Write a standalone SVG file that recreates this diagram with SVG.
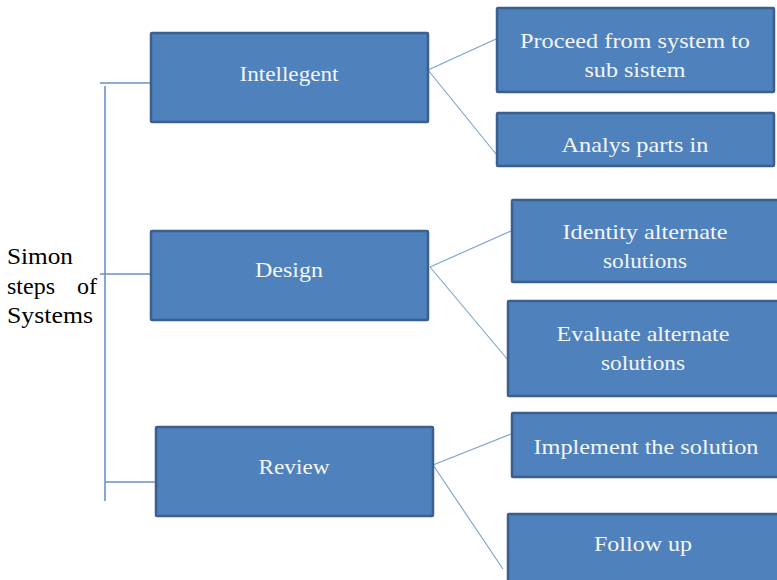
<svg xmlns="http://www.w3.org/2000/svg" width="777" height="580" viewBox="0 0 777 580">
<style>
.box{fill:#4f81bd;stroke:#3b5f8f;stroke-width:2.5}
.bt{font-family:"Liberation Serif","DejaVu Serif",serif;font-size:21px;fill:#f4f6fa;text-anchor:middle}
.lt{font-family:"Liberation Serif","DejaVu Serif",serif;font-size:24px;fill:#000}
.tree{stroke:#6a93c8;stroke-width:1.6;fill:none}
.con{stroke:#7aa0d0;stroke-width:1.1;fill:none}
</style>
<rect width="777" height="580" fill="#fff"/>
<g id="root">
<text class="lt" x="7" y="264" textLength="66" lengthAdjust="spacingAndGlyphs">Simon</text>
<text class="lt" x="7" y="294">steps</text>
<text class="lt" x="77" y="294">of</text>
<text class="lt" x="7" y="323" textLength="86" lengthAdjust="spacingAndGlyphs">Systems</text>
</g>
<g id="connectors">
<path class="tree" d="M105 86V501M100 83H151M100 274H151M105 482H156"/>
<path class="con" d="M428 70L496 39M428 70L496 154M430 267L511 231M430 267L508 360M433 465L511 434M433 465L503 569"/>
</g>
<g id="intellegent"><rect class="box" x="151" y="33" width="277" height="89" rx="1"/><text class="bt" x="289" y="81" textLength="99" lengthAdjust="spacingAndGlyphs">Intellegent</text></g>
<g id="design"><rect class="box" x="151" y="231" width="277" height="89" rx="1"/><text class="bt" x="289" y="277" textLength="68" lengthAdjust="spacingAndGlyphs">Design</text></g>
<g id="review"><rect class="box" x="156" y="427" width="277" height="89" rx="1"/><text class="bt" x="294" y="474" textLength="71" lengthAdjust="spacingAndGlyphs">Review</text></g>
<g id="proceed"><rect class="box" x="497" y="8" width="277" height="84" rx="1"/><text class="bt" x="635" y="48" textLength="230" lengthAdjust="spacingAndGlyphs">Proceed from system to</text><text class="bt" x="635" y="77" textLength="101" lengthAdjust="spacingAndGlyphs">sub sistem</text></g>
<g id="analys"><rect class="box" x="497" y="113" width="277" height="53" rx="1"/><text class="bt" x="635" y="152" textLength="147" lengthAdjust="spacingAndGlyphs">Analys parts in</text></g>
<g id="identity"><rect class="box" x="512" y="200" width="280" height="82" rx="1"/><text class="bt" x="645" y="239" textLength="165" lengthAdjust="spacingAndGlyphs">Identity alternate</text><text class="bt" x="645" y="268" textLength="84" lengthAdjust="spacingAndGlyphs">solutions</text></g>
<g id="evaluate"><rect class="box" x="508" y="301" width="284" height="95" rx="1"/><text class="bt" x="643" y="341" textLength="173" lengthAdjust="spacingAndGlyphs">Evaluate alternate</text><text class="bt" x="643" y="370" textLength="84" lengthAdjust="spacingAndGlyphs">solutions</text></g>
<g id="implement"><rect class="box" x="512" y="413" width="280" height="64" rx="1"/><text class="bt" x="646" y="454" textLength="225" lengthAdjust="spacingAndGlyphs">Implement the solution</text></g>
<g id="follow"><rect class="box" x="508" y="514" width="284" height="80" rx="1"/><text class="bt" x="643" y="551" textLength="98" lengthAdjust="spacingAndGlyphs">Follow up</text></g>
</svg>
